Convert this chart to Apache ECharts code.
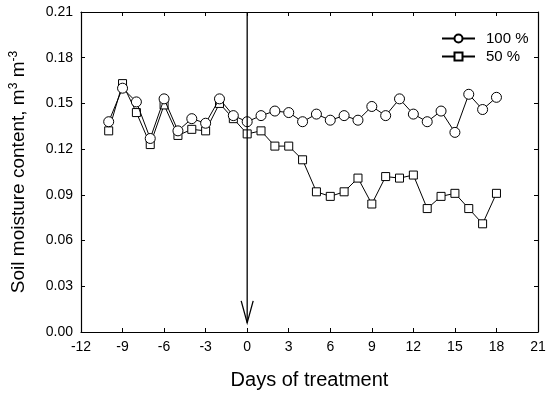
<!DOCTYPE html>
<html><head><meta charset="utf-8">
<script src="https://cdn.jsdelivr.net/npm/echarts@6/dist/echarts.min.js"></script>
<style>html,body{margin:0;padding:0;background:#fff}#c{width:550px;height:398px}</style>
</head><body><div id="c"></div>
<script>
const days = [-10,-9,-8,-7,-6,-5,-4,-3,-2,-1,0,1,2,3,4,5,6,7,8,9,10,11,12,13,14,15,16,17,18];
const full = [0.138,0.160,0.151,0.127,0.153,0.132,0.140,0.137,0.153,0.142,0.138,0.142,0.145,0.144,0.138,0.143,0.139,0.142,0.139,0.148,0.142,0.153,0.143,0.138,0.145,0.131,0.156,0.146,0.154];
const half = [0.132,0.163,0.144,0.123,0.149,0.129,0.133,0.132,0.150,0.140,0.130,0.132,0.122,0.122,0.113,0.092,0.089,0.092,0.101,0.084,0.102,0.101,0.103,0.081,0.089,0.091,0.081,0.071,0.091];
const seriesNames = ['100 %', '50 %'];
const xMin = -12, xMax = 21, xStep = 3;
const yMin = 0, yMax = 0.21, yStep = 0.03;
const arrowDay = 0, arrowTop = 0.21, arrowTip = 0.006;

const font = 'Liberation Sans, Arial, sans-serif';
const chart = echarts.init(document.getElementById('c'));
const pairs = arr => days.map((d, i) => [d, arr[i]]);
const axisCommon = {
  axisLine: {show: true, onZero: false, lineStyle: {color: '#000', width: 1.2}},
  axisTick: {show: true, inside: true, length: 4, lineStyle: {color: '#000'}},
  splitLine: {show: false}
};
chart.setOption({
  animation: false,
  backgroundColor: '#fff',
  grid: {left: 80, right: 12, top: 12, bottom: 66},
  legend: {
    data: seriesNames, orient: 'vertical', left: 436, top: 26,
    itemWidth: 33, itemHeight: 10, itemGap: 3,
    textStyle: {fontFamily: font, fontSize: 15, color: '#000', padding: [0,0,0,6]}
  },
  xAxis: [
    Object.assign({type: 'value', min: xMin, max: xMax, interval: xStep, position: 'bottom',
      axisLabel: {fontFamily: font, fontSize: 14, color: '#000', margin: 8},
      name: 'Days of treatment', nameLocation: 'middle', nameGap: 38,
      nameTextStyle: {fontFamily: font, fontSize: 20, color: '#000'}}, axisCommon),
    Object.assign({type: 'value', min: xMin, max: xMax, interval: xStep, position: 'top',
      axisLabel: {show: false}}, axisCommon)
  ],
  yAxis: [
    Object.assign({type: 'value', min: yMin, max: yMax, interval: yStep, position: 'left',
      axisLabel: {fontFamily: font, fontSize: 14, color: '#000', margin: 8, formatter: v => v.toFixed(2)},
      name: 'Soil moisture content, m{sup|3} m{sup|-3}', nameLocation: 'middle', nameGap: 52,
      nameTextStyle: {fontFamily: font, fontSize: 19, color: '#000',
        rich: {sup: {fontFamily: font, fontSize: 12, color: '#000', verticalAlign: 'top', padding: [0,0,9,0]}}}}, axisCommon),
    Object.assign({type: 'value', min: yMin, max: yMax, interval: yStep, position: 'right',
      axisLabel: {show: false}}, axisCommon)
  ],
  series: [
    {name: seriesNames[1], type: 'line', data: pairs(half), symbol: 'rect', symbolSize: 8,
      itemStyle: {color: '#fff', borderColor: '#000', borderWidth: 1},
      lineStyle: {color: '#000', width: 1}, z: 2},
    {name: seriesNames[0], type: 'line', data: pairs(full), symbol: 'circle', symbolSize: 10,
      itemStyle: {color: '#fff', borderColor: '#000', borderWidth: 1},
      lineStyle: {color: '#000', width: 1}, z: 3}
  ]
});
function drawArrow() {
  const top = chart.convertToPixel({xAxisIndex: 0, yAxisIndex: 0}, [arrowDay, arrowTop]);
  const tip = chart.convertToPixel({xAxisIndex: 0, yAxisIndex: 0}, [arrowDay, arrowTip]);
  chart.setOption({graphic: [
    {type: 'line', shape: {x1: top[0], y1: top[1], x2: tip[0], y2: tip[1]}, style: {stroke: '#000', lineWidth: 1.3}, z: 10},
    {type: 'polyline', shape: {points: [[tip[0]-6, tip[1]-22], [tip[0], tip[1]], [tip[0]+6, tip[1]-22]]}, style: {stroke: '#000', lineWidth: 1.3, fill: null}, z: 10}
  ]});
}
drawArrow();
</script></body></html>
